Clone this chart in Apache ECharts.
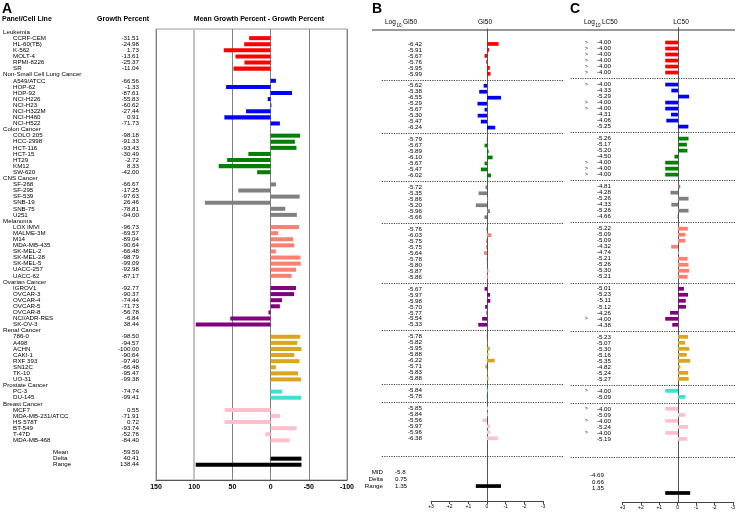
<!DOCTYPE html>
<html><head><meta charset="utf-8">
<script src="https://cdn.jsdelivr.net/npm/echarts@6/dist/echarts.min.js"></script>
<style>html,body{margin:0;padding:0;background:#fff}#c{width:738px;height:512px}</style>
</head><body><div id="c"></div>
<script>
// ---------------- DATA ----------------
const panelNames = ['Leukemia','Non-Small Cell Lung Cancer','Colon Cancer','CNS Cancer','Melanoma','Ovarian Cancer','Renal Cancer','Prostate Cancer','Breast Cancer'];
const panelColors = ['#ff0000','#0000ff','#008000','#808080','#fa8072','#800080','#daa520','#40e0d0','#ffc0cb'];
const cellLines = [
 ['CCRF-CEM','HL-60(TB)','K-562','MOLT-4','RPMI-8226','SR'],
 ['A549/ATCC','HOP-62','HOP-92','NCI-H226','NCI-H23','NCI-H322M','NCI-H460','NCI-H522'],
 ['COLO 205','HCC-2998','HCT-116','HCT-15','HT29','KM12','SW-620'],
 ['SF-268','SF-295','SF-539','SNB-19','SNB-75','U251'],
 ['LOX IMVI','MALME-3M','M14','MDA-MB-435','SK-MEL-2','SK-MEL-28','SK-MEL-5','UACC-257','UACC-62'],
 ['IGROV1','OVCAR-3','OVCAR-4','OVCAR-5','OVCAR-8','NCI/ADR-RES','SK-OV-3'],
 ['786-0','A498','ACHN','CAKI-1','RXF 393','SN12C','TK-10','UO-31'],
 ['PC-3','DU-145'],
 ['MCF7','MDA-MB-231/ATCC','HS 578T','BT-549','T-47D','MDA-MB-468']
];
const growthPercent = [
 [-31.51,-24.98,1.73,-13.61,-25.37,-11.04],
 [-66.56,-1.33,-87.61,-55.83,-60.62,-27.44,0.91,-71.73],
 [-98.18,-91.33,-93.43,-30.49,-2.72,8.33,-42.00],
 [-66.67,-17.25,-97.63,26.46,-78.81,-94.00],
 [-96.73,-69.57,-89.04,-90.64,-66.48,-98.79,-99.09,-92.98,-87.17],
 [-92.77,-90.37,-74.44,-71.73,-56.78,-6.84,38.44],
 [-98.50,-94.57,-100.00,-90.64,-97.40,-66.48,-95.47,-99.38],
 [-74.74,-99.41],
 [0.55,-71.91,0.72,-93.74,-52.76,-84.40]
];
const logGI50 = [
 [-6.42,-5.91,-5.67,-5.76,-5.95,-5.99],
 [-5.62,-5.38,-6.55,-5.29,-5.67,-5.30,-5.47,-6.24],
 [-5.79,-5.67,-5.89,-6.10,-5.67,-5.47,-6.02],
 [-5.72,-5.35,-5.86,-5.20,-5.96,-5.66],
 [-5.76,-6.03,-5.75,-5.75,-5.64,-5.78,-5.80,-5.87,-5.86],
 [-5.67,-5.97,-5.98,-5.70,-5.77,-5.54,-5.33],
 [-5.78,-5.82,-5.95,-5.88,-6.22,-5.71,-5.83,-5.88],
 [-5.84,-5.78],
 [-5.85,-5.84,-5.56,-5.97,-5.96,-6.38]
];
const logLC50 = [
 [-4.00,-4.00,-4.00,-4.00,-4.00,-4.00],
 [-4.00,-4.33,-5.29,-4.00,-4.00,-4.31,-4.06,-5.25],
 [-5.26,-5.17,-5.20,-4.50,-4.00,-4.00,-4.00],
 [-4.81,-4.28,-5.26,-4.33,-5.26,-4.66],
 [-5.22,-5.09,-5.09,-4.32,-4.74,-5.21,-5.26,-5.30,-5.21],
 [-5.01,-5.23,-5.11,-5.12,-4.26,-4.00,-4.38],
 [-5.23,-5.07,-5.30,-5.16,-5.35,-4.82,-5.24,-5.27],
 [-4.00,-5.09],
 [-4.00,-5.09,-4.00,-5.24,-4.00,-5.19]
];
const lc50Greater = [
 [1,1,1,1,1,1],
 [1,0,0,1,1,0,0,0],
 [0,0,0,0,1,1,1],
 [0,0,0,0,0,0],
 [0,0,0,0,0,0,0,0,0],
 [0,0,0,0,0,1,0],
 [0,0,0,0,0,0,0,0],
 [1,0],
 [1,0,1,0,1,0]
];
const gpSummaryLabels = ['Mean','Delta','Range'];
const gpSummary = [-59.59, 40.41, 138.44];
const gi50SummaryLabels = ['MID','Delta','Range'];
const gi50Summary = [-5.8, 0.75, 1.35];
const lc50Summary = [-4.69, 0.66, 1.35];

// ---------------- BUILD ----------------
const FONT = "'Liberation Sans', Arial, sans-serif";
const FS = 6.2;
const BLACK = 9;

// Panel A rows
const aLabels = [], aBars = [];
panelNames.forEach((p, g) => {
  aLabels.push('{h|' + p + '}');
  cellLines[g].forEach((c, i) => {
    const row = aLabels.length;
    aLabels.push('{c|' + c + '}{v|' + growthPercent[g][i].toFixed(2) + '}');
    aBars.push([row, 0, growthPercent[g][i] - gpSummary[0], g]);
  });
});
aLabels.push('');
const aDiffs = growthPercent.flat().map(v => v - gpSummary[0]);
const aMax = Math.max(...aDiffs), aMin = Math.min(...aDiffs);
gpSummaryLabels.forEach((l, i) => {
  const row = aLabels.length;
  aLabels.push('{s|' + l + '}{v|' + String(gpSummary[i]) + '}');
  if (i === 1) aBars.push([row, 0, aMin, BLACK]);
  if (i === 2) aBars.push([row, aMax, aMin, BLACK]);
});
while (aLabels.length < 74) aLabels.push('');

// Panels B and C rows
function buildLog(values, mid, flags, rangeRow) {
  const labels = [''], bars = [], seps = [];
  panelNames.forEach((p, g) => {
    if (g > 0) seps.push(labels.length);
    labels.push('');
    values[g].forEach((v, i) => {
      const row = labels.length;
      const flag = flags && flags[g][i] ? '{g|>}' : '';
      labels.push(flag + '{v|' + v.toFixed(2) + '}');
      bars.push([row, 0, v - mid, g]);
    });
  });
  labels.push('', '');
  seps.push(labels.length);
  labels.push('');
  const d = values.flat().map(v => v - mid);
  while (labels.length < 79) labels.push('');
  bars.push([rangeRow, Math.max(...d), Math.min(...d), BLACK]);
  return {labels, bars, seps};
}
const B = buildLog(logGI50, gi50Summary[0], null, 76);
const C = buildLog(logLC50, lc50Summary[0], lc50Greater, 77);

const ids = n => Array.from({length: n}, (_, i) => 'r' + i);

function barRenderer(frac) {
  return function (params, api) {
    const r = api.value(0), x0 = api.value(1), x1 = api.value(2), ci = api.value(3);
    const p0 = api.coord([x0, r]), p1 = api.coord([x1, r]);
    const h = api.size([0, 1])[1] * frac;
    return {type: 'rect',
      shape: {x: Math.min(p0[0], p1[0]), y: p0[1] - h / 2, width: Math.abs(p1[0] - p0[0]), height: h},
      style: {fill: ci >= BLACK ? '#000' : panelColors[ci]}};
  };
}

// layout constants
const A_L = 155, A_W = 192;
const B_ZERO = 487, B_UNIT = 18.67, B_L = 381, B_R = 563, B_VAL_X = 422;
const C_ZERO = 678, C_UNIT = 18.5, C_L = 570, C_R = 735, C_VAL_X = 611;

const rowLabelStyle = {fontFamily: FONT, fontSize: FS, color: '#000'};
const tickFmt = v => (v > 0 ? '+' + v : String(v));

const option = {
  animation: false,
  backgroundColor: '#fff',
  textStyle: {fontFamily: FONT},
  grid: [
    {left: A_L, top: 29, width: A_W, height: 451, show: true, borderColor: '#999', borderWidth: 1},
    {left: B_L, top: 29, width: B_R - B_L, height: 472},
    {left: B_ZERO - 3 * B_UNIT, top: 500, width: 6 * B_UNIT, height: 1},
    {left: 383, top: 469, width: 12, height: 21},
    {left: C_L, top: 27.5, width: C_R - C_L, height: 474.5},
    {left: C_ZERO - 3 * C_UNIT, top: 501, width: 6 * C_UNIT, height: 1},
    {left: 604, top: 472.5, width: 10, height: 19.5}
  ],
  xAxis: [
    {gridIndex: 0, type: 'value', min: -100, max: 150, interval: 50, inverse: true,
     axisLine: {show: true, lineStyle: {color: '#555'}}, axisTick: {show: false},
     axisLabel: {fontFamily: FONT, fontSize: 7, fontWeight: 'bold', color: '#000', margin: 4},
     splitLine: {show: true, lineStyle: {color: '#808080', width: 1}}},
    {gridIndex: 1, type: 'value', inverse: true, min: -(B_R - B_ZERO) / B_UNIT, max: (B_ZERO - B_L) / B_UNIT, show: false},
    {gridIndex: 2, type: 'value', inverse: true, min: -3, max: 3, interval: 1,
     axisLine: {show: true, lineStyle: {color: '#444'}}, axisTick: {show: true, length: 3, lineStyle: {color: '#444'}},
     axisLabel: {fontFamily: FONT, fontSize: 5, color: '#000', margin: 3, formatter: tickFmt}, splitLine: {show: false}},
    {gridIndex: 3, type: 'value', show: false},
    {gridIndex: 4, type: 'value', inverse: true, min: -(C_R - C_ZERO) / C_UNIT, max: (C_ZERO - C_L) / C_UNIT, show: false},
    {gridIndex: 5, type: 'value', inverse: true, min: -3, max: 3, interval: 1,
     axisLine: {show: true, lineStyle: {color: '#444'}}, axisTick: {show: true, length: 3, lineStyle: {color: '#444'}},
     axisLabel: {fontFamily: FONT, fontSize: 5, color: '#000', margin: 3, formatter: tickFmt}, splitLine: {show: false}},
    {gridIndex: 6, type: 'value', show: false}
  ],
  yAxis: [
    {gridIndex: 0, type: 'category', inverse: true, data: ids(aLabels.length),
     axisLine: {show: false, onZero: false}, axisTick: {show: false},
     axisLabel: {interval: 0, align: 'left', margin: A_L - 2, ...rowLabelStyle,
       formatter: (v, i) => aLabels[i],
       rich: {
         h: {fontFamily: FONT, fontSize: FS, color: '#000'},
         c: {fontFamily: FONT, fontSize: FS, color: '#000', width: 88, padding: [0, 0, 0, 10]},
         s: {fontFamily: FONT, fontSize: FS, color: '#000', width: 48, padding: [0, 0, 0, 50]},
         v: {fontFamily: FONT, fontSize: FS, color: '#000', width: 38, align: 'right'}
       }}},
    {gridIndex: 1, type: 'category', inverse: true, data: ids(B.labels.length),
     axisLine: {show: true, onZero: true, lineStyle: {color: '#555'}}, axisTick: {show: false},
     axisLabel: {interval: 0, margin: B_L - B_VAL_X, align: 'right', ...rowLabelStyle,
       formatter: (v, i) => B.labels[i],
       rich: {v: {fontFamily: FONT, fontSize: FS, color: '#000'}}}},
    {gridIndex: 2, type: 'value', show: false},
    {gridIndex: 3, type: 'category', inverse: true, data: gi50SummaryLabels, position: 'left',
     axisLine: {show: false}, axisTick: {show: false},
     axisLabel: {interval: 0, margin: 0, align: 'right', ...rowLabelStyle}},
    {gridIndex: 3, type: 'category', inverse: true, data: gi50Summary.map(String), position: 'right',
     axisLine: {show: false}, axisTick: {show: false},
     axisLabel: {interval: 0, margin: 0, align: 'left', ...rowLabelStyle}},
    {gridIndex: 4, type: 'category', inverse: true, data: ids(C.labels.length),
     axisLine: {show: true, onZero: true, lineStyle: {color: '#555'}}, axisTick: {show: false},
     axisLabel: {interval: 0, margin: C_L - C_VAL_X, align: 'right', ...rowLabelStyle,
       formatter: (v, i) => C.labels[i],
       rich: {v: {fontFamily: FONT, fontSize: FS, color: '#000'},
              g: {fontFamily: FONT, fontSize: 5, color: '#000', width: 12, align: 'left'}}}},
    {gridIndex: 5, type: 'value', show: false},
    {gridIndex: 6, type: 'category', inverse: true, data: lc50Summary.map(String), position: 'left',
     axisLine: {show: false}, axisTick: {show: false},
     axisLabel: {interval: 0, margin: 0, align: 'right', ...rowLabelStyle}}
  ],
  series: [
    {type: 'custom', xAxisIndex: 0, yAxisIndex: 0, data: aBars, encode: {y: 0, x: [1, 2]},
     renderItem: barRenderer(0.66), silent: true,
     markLine: {silent: true, symbol: 'none', label: {show: false},
       lineStyle: {color: '#c4c4c4', width: 2, type: 'solid'}, data: [{xAxis: 100}]}},
    {type: 'custom', xAxisIndex: 1, yAxisIndex: 1, data: B.bars, encode: {y: 0, x: [1, 2]},
     renderItem: barRenderer(0.62), silent: true,
     markLine: {silent: true, symbol: 'none', label: {show: false},
       lineStyle: {color: '#444', width: 1, type: [1.2, 1.2]},
       data: B.seps.map(r => ({yAxis: 'r' + r}))}},
    {type: 'custom', xAxisIndex: 4, yAxisIndex: 5, data: C.bars, encode: {y: 0, x: [1, 2]},
     renderItem: barRenderer(0.62), silent: true,
     markLine: {silent: true, symbol: 'none', label: {show: false},
       lineStyle: {color: '#444', width: 1, type: [1.2, 1.2]},
       data: C.seps.map(r => ({yAxis: 'r' + r}))}}
  ],
  graphic: [
    {type: 'text', x: 2, y: 2, style: {text: 'A', font: 'bold 14px ' + FONT, fill: '#000'}},
    {type: 'text', x: 2, y: 16, style: {text: 'Panel/Cell Line', font: 'bold 7px ' + FONT, fill: '#000'}},
    {type: 'text', x: 97, y: 16, style: {text: 'Growth Percent', font: 'bold 7px ' + FONT, fill: '#000'}},
    {type: 'text', x: 259, y: 16, style: {text: 'Mean Growth Percent - Growth Percent', font: 'bold 7px ' + FONT, fill: '#000', textAlign: 'center', align: 'center'}},
    {type: 'text', x: 372, y: 2, style: {text: 'B', font: 'bold 14px ' + FONT, fill: '#000'}},
    {type: 'text', x: 385, y: 19, style: {text: 'Log', font: '6.5px ' + FONT, fill: '#000'}},
    {type: 'text', x: 396.5, y: 23, style: {text: '10', font: '4.5px ' + FONT, fill: '#000'}},
    {type: 'text', x: 403, y: 19, style: {text: 'GI50', font: '6.5px ' + FONT, fill: '#000'}},
    {type: 'text', x: 485, y: 19, style: {text: 'GI50', font: '6.5px ' + FONT, fill: '#000', textAlign: 'center', align: 'center'}},
    {type: 'text', x: 570, y: 2, style: {text: 'C', font: 'bold 14px ' + FONT, fill: '#000'}},
    {type: 'text', x: 584, y: 19, style: {text: 'Log', font: '6.5px ' + FONT, fill: '#000'}},
    {type: 'text', x: 595.5, y: 23, style: {text: '10', font: '4.5px ' + FONT, fill: '#000'}},
    {type: 'text', x: 602, y: 19, style: {text: 'LC50', font: '6.5px ' + FONT, fill: '#000'}},
    {type: 'text', x: 681, y: 19, style: {text: 'LC50', font: '6.5px ' + FONT, fill: '#000', textAlign: 'center', align: 'center'}},
    {type: 'line', shape: {x1: 372, y1: 30, x2: 735, y2: 30}, style: {stroke: '#333', lineWidth: 1}}
  ]
};
const chart = echarts.init(document.getElementById('c'), null, {renderer: 'canvas'});
chart.setOption(option);
</script></body></html>
